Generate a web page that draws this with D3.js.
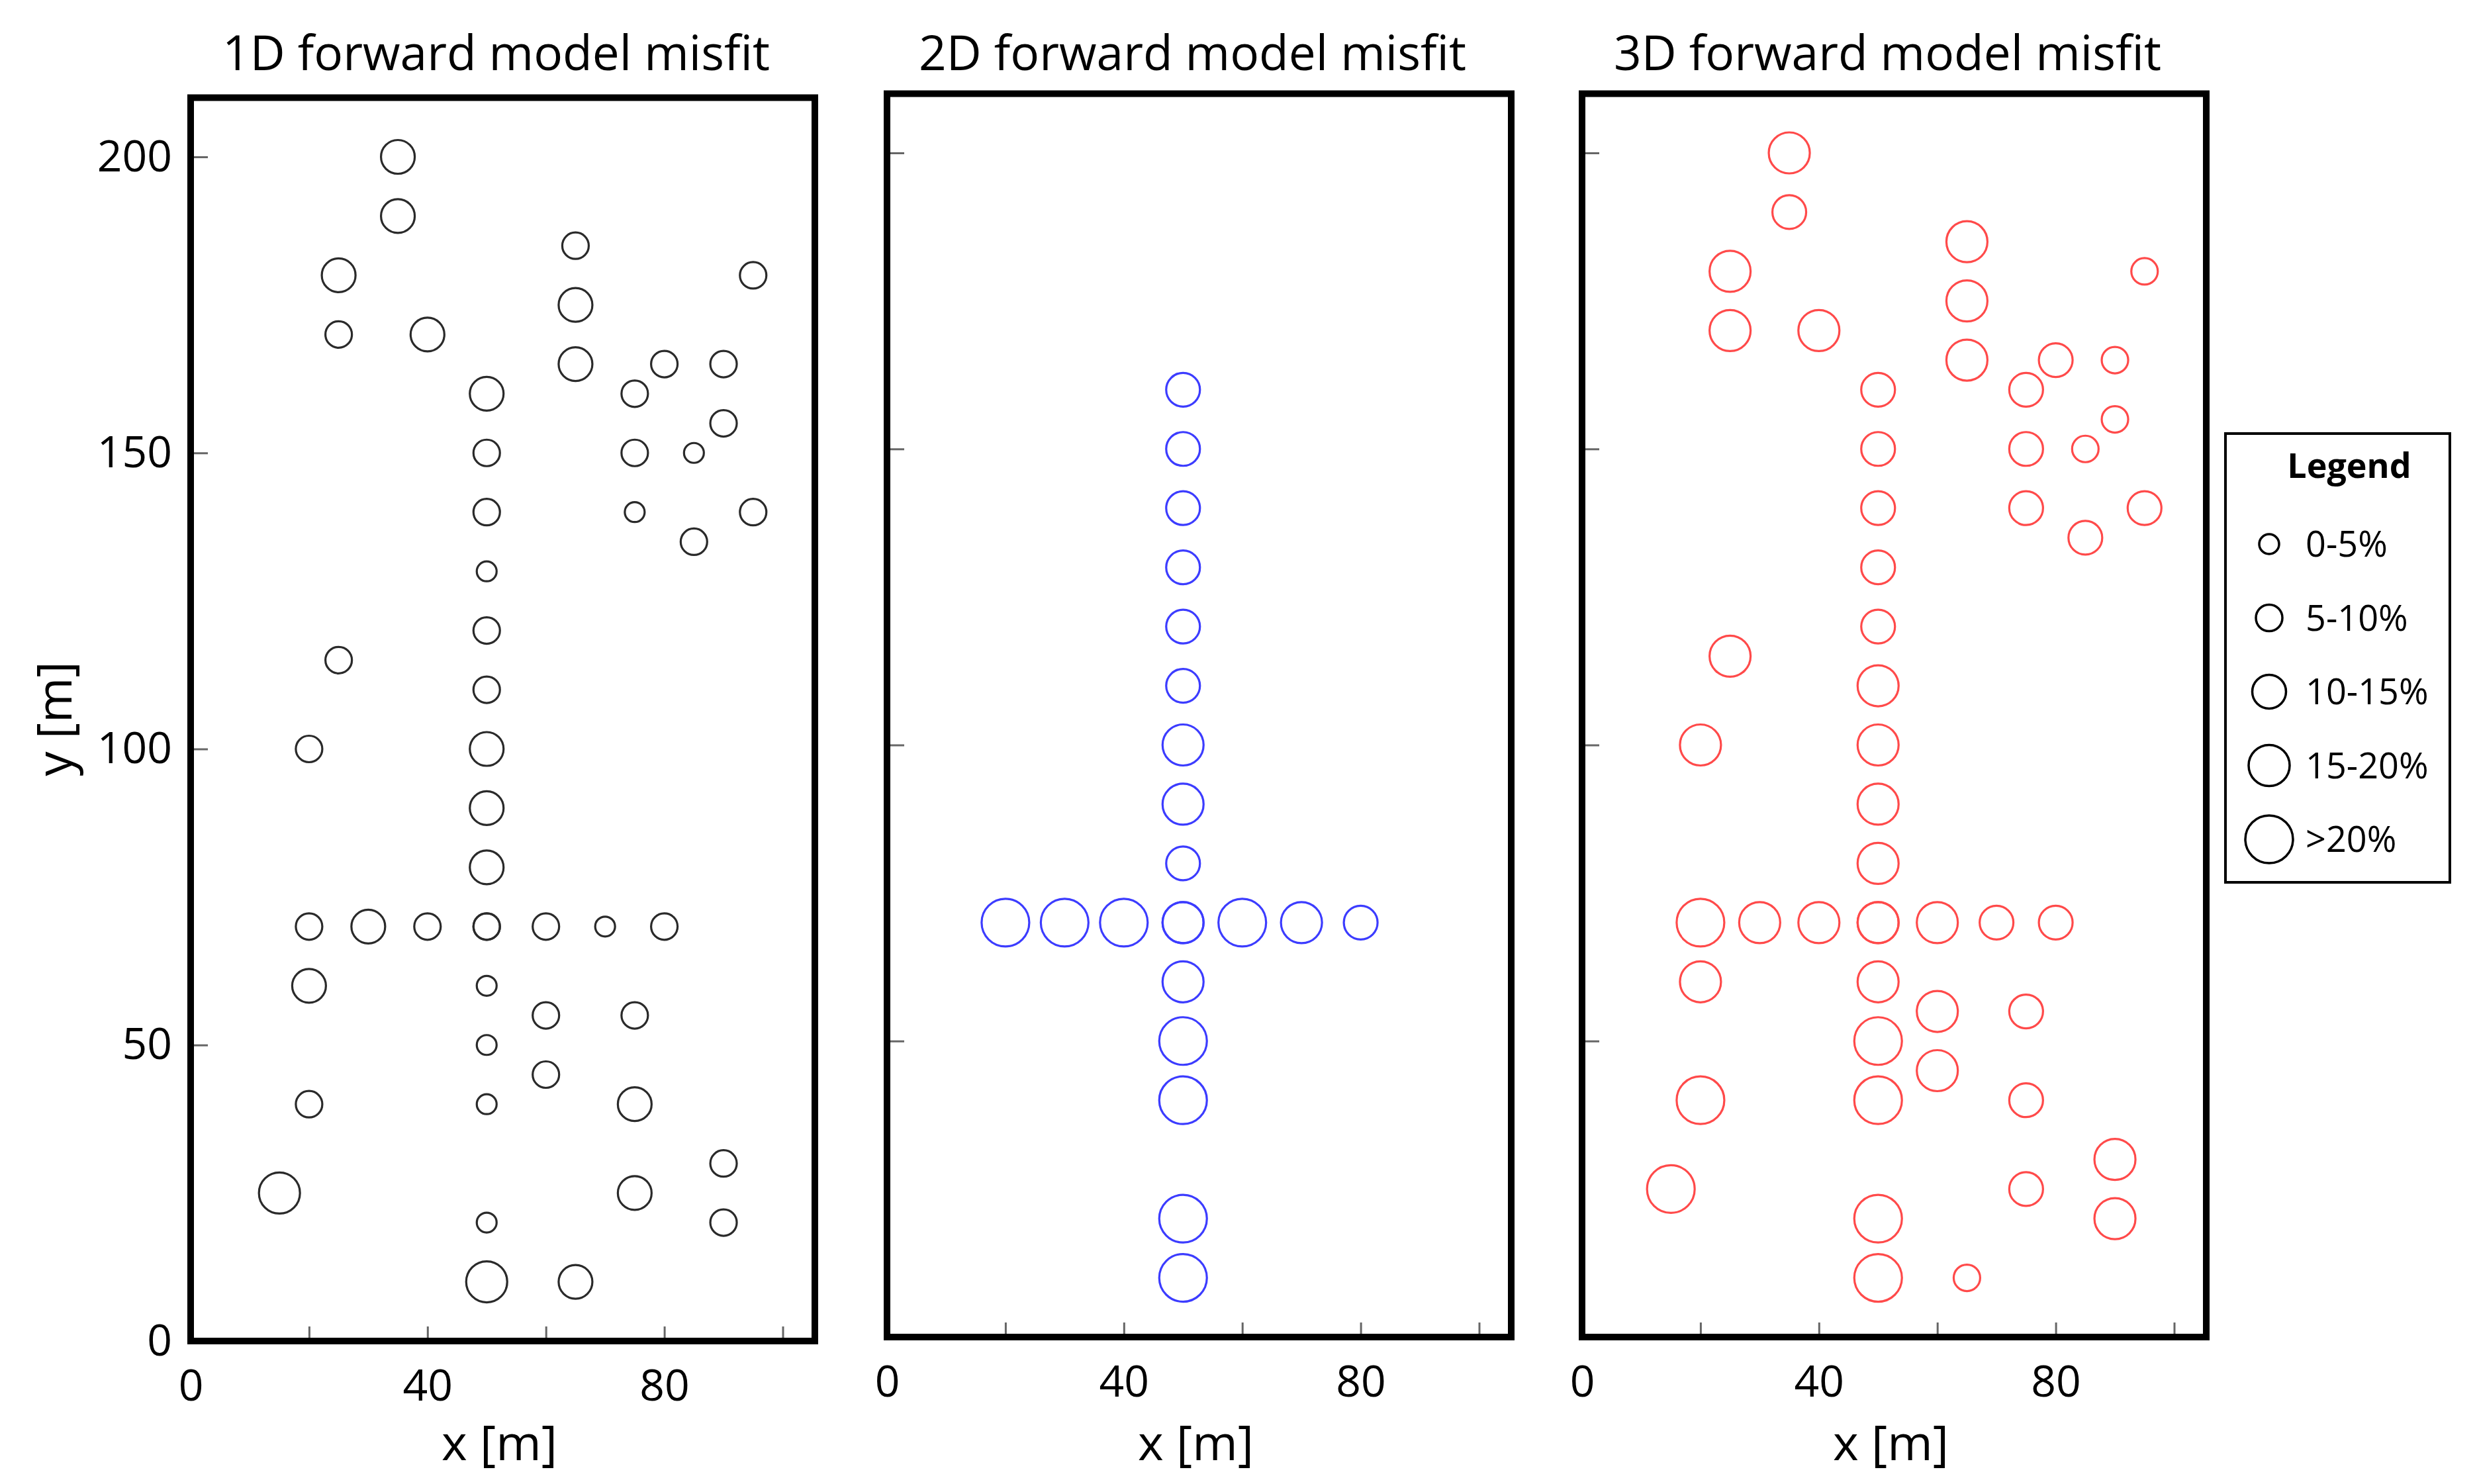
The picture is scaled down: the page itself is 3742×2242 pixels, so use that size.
<!DOCTYPE html>
<html>
<head>
<meta charset="utf-8">
<script src="https://d3js.org/d3.v7.min.js"></script>
<style>
  body { margin: 0; background: #fff; }
  text { font-family: "Open Sans", "Noto Sans", sans-serif; }
</style>
</head>
<body>
<div class="chart"></div>
<script>
// misfit class per station: 0 = 0-5%, 1 = 5-10%, 2 = 10-15%, 3 = 15-20%, 4 = >20%
var titles = ["1D forward model misfit", "2D forward model misfit", "3D forward model misfit"];
var sizeLabels = ["0-5%", "5-10%", "10-15%", "15-20%", ">20%"];
var xTicks = [0, 20, 40, 60, 80, 100];
var xLabels = [0, 40, 80];
var yTicks = [0, 50, 100, 150, 200];

var x1D = [35, 35, 25, 25, 40, 65, 65, 65, 95, 80, 90, 50, 75, 90, 50, 75, 85, 50, 75, 95, 85, 50, 25, 50, 50, 20, 50, 50, 50, 20, 30, 40, 50, 50, 60, 70, 80, 20, 50, 60, 75, 50, 60, 20, 50, 75, 90, 15, 75, 50, 90, 50, 65];
var y1D = [200, 190, 180, 170, 170, 185, 175, 165, 180, 165, 165, 160, 160, 155, 150, 150, 150, 140, 140, 140, 135, 130, 115, 120, 110, 100, 100, 90, 80, 70, 70, 70, 70, 70, 70, 70, 70, 60, 60, 55, 55, 50, 45, 40, 40, 40, 30, 25, 25, 20, 20, 10, 10];
var c1D = [2, 2, 2, 1, 2, 1, 2, 2, 1, 1, 1, 2, 1, 1, 1, 1, 0, 1, 0, 1, 1, 0, 1, 1, 1, 1, 2, 2, 2, 1, 2, 1, 1, 1, 1, 0, 1, 2, 0, 1, 1, 0, 1, 1, 0, 2, 1, 3, 2, 0, 1, 3, 2];

var x2D = [50, 50, 50, 50, 50, 50, 50, 50, 50, 20, 30, 40, 50, 50, 60, 70, 80, 50, 50, 50, 50, 50];
var y2D = [160, 150, 140, 130, 120, 110, 100, 90, 80, 70, 70, 70, 70, 70, 70, 70, 70, 60, 50, 40, 20, 10];
var c2D = [2, 2, 2, 2, 2, 2, 3, 3, 2, 4, 4, 4, 3, 3, 4, 3, 2, 3, 4, 4, 4, 4];

var x3D = [35, 35, 25, 25, 40, 65, 65, 65, 95, 80, 90, 50, 75, 90, 50, 75, 85, 50, 75, 95, 85, 50, 50, 25, 50, 20, 50, 50, 50, 20, 30, 40, 50, 50, 60, 70, 80, 20, 50, 60, 75, 50, 60, 20, 50, 75, 90, 15, 75, 50, 90, 50, 65];
var y3D = [200, 190, 180, 170, 170, 185, 175, 165, 180, 165, 165, 160, 160, 155, 150, 150, 150, 140, 140, 140, 135, 130, 120, 115, 110, 100, 100, 90, 80, 70, 70, 70, 70, 70, 70, 70, 70, 60, 60, 55, 55, 50, 45, 40, 40, 40, 30, 25, 25, 20, 20, 10, 10];
var c3D = [3, 2, 3, 3, 3, 3, 3, 3, 1, 2, 1, 2, 2, 1, 2, 2, 1, 2, 2, 2, 2, 2, 2, 3, 3, 3, 3, 3, 3, 4, 3, 3, 3, 3, 3, 2, 2, 3, 3, 3, 2, 4, 3, 4, 4, 2, 3, 4, 2, 4, 3, 4, 1];

var panels = [
  { xs: x1D, ys: y1D, cs: c1D, color: "#2a2a2a", left: 288, y0: 2026, labels: true },
  { xs: x2D, ys: y2D, cs: c2D, color: "#3c3cff", left: 1340, y0: 2020, labels: false },
  { xs: x3D, ys: y3D, cs: c3D, color: "#ff4a4a", left: 2390, y0: 2020, labels: false }
];

var W = 3742, H = 2242;
var pw = 943, unit = 8.945;

var size = d3.scaleOrdinal().domain([0, 1, 2, 3, 4]).range([15, 20, 25.5, 31, 36]);

var svg = d3.select(".chart").append("svg")
  .attr("width", W)
  .attr("height", H);
svg.append("rect").attr("width", W).attr("height", H).attr("fill", "#fff");

panels.forEach(function(p, i) {
  var x = d3.scaleLinear().domain([0, pw / unit]).range([p.left, p.left + pw]);
  var y = d3.scaleLinear().domain([0, 210]).range([p.y0, p.y0 - 210 * unit]);
  var g = svg.append("g");

  g.append("text")
    .attr("x", p.left + pw / 2 - 10)
    .attr("y", 106)
    .attr("text-anchor", "middle")
    .attr("font-size", 73)
    .text(titles[i]);

  var xa = g.append("g")
    .attr("transform", "translate(0," + p.y0 + ")")
    .call(d3.axisBottom(x).tickValues(xTicks).tickSize(-22).tickPadding(43)
      .tickFormat(function(d) { return xLabels.indexOf(d) >= 0 ? d : ""; }));
  var ya = g.append("g")
    .attr("transform", "translate(" + p.left + ",0)")
    .call(d3.axisLeft(y).tickValues(yTicks).tickSize(-26).tickPadding(28)
      .tickFormat(function(d) { return p.labels ? d : ""; }));
  [xa, ya].forEach(function(a) {
    a.select(".domain").remove();
    a.selectAll(".tick line").attr("stroke", "#666").attr("stroke-width", 3);
    a.selectAll(".tick text").attr("font-size", 66).attr("fill", "#000")
      .style("font-family", "'Open Sans', sans-serif");
  });

  g.selectAll("circle.stn")
    .data(p.xs.map(function(v, k) { return { x: v, y: p.ys[k], c: p.cs[k] }; }))
    .enter().append("circle")
    .attr("class", "stn")
    .attr("cx", function(d) { return x(d.x); })
    .attr("cy", function(d) { return y(d.y); })
    .attr("r", function(d) { return size(d.c); })
    .attr("fill", "none")
    .attr("stroke", p.color)
    .attr("stroke-width", 3.2);

  g.append("rect")
    .attr("x", p.left)
    .attr("y", y(210))
    .attr("width", pw)
    .attr("height", p.y0 - y(210))
    .attr("fill", "none")
    .attr("stroke", "#000")
    .attr("stroke-width", 10);

  g.append("text")
    .attr("x", p.left + pw / 2 - 5)
    .attr("y", 2206)
    .attr("text-anchor", "middle")
    .attr("font-size", 74)
    .text("x [m]");
});

svg.append("text")
  .attr("transform", "translate(108,1086) rotate(-90)")
  .attr("text-anchor", "middle")
  .attr("font-size", 74)
  .text("y [m]");

// legend
var lg = svg.append("g");
lg.append("rect")
  .attr("x", 3362).attr("y", 655)
  .attr("width", 339).attr("height", 678)
  .attr("fill", "#fff")
  .attr("stroke", "#000")
  .attr("stroke-width", 4);
lg.append("text")
  .attr("x", 3549).attr("y", 722)
  .attr("text-anchor", "middle")
  .attr("font-size", 52)
  .attr("font-weight", "bold")
  .text("Legend");
var legY = d3.scalePoint().domain(sizeLabels).range([822, 1268]);
sizeLabels.forEach(function(s, k) {
  lg.append("circle")
    .attr("cx", 3428).attr("cy", legY(s))
    .attr("r", size(k))
    .attr("fill", "none")
    .attr("stroke", "#000")
    .attr("stroke-width", 3.5);
  lg.append("text")
    .attr("x", 3483).attr("y", legY(s))
    .attr("dy", "0.36em")
    .attr("font-size", 54)
    .text(s);
});
</script>
</body>
</html>
